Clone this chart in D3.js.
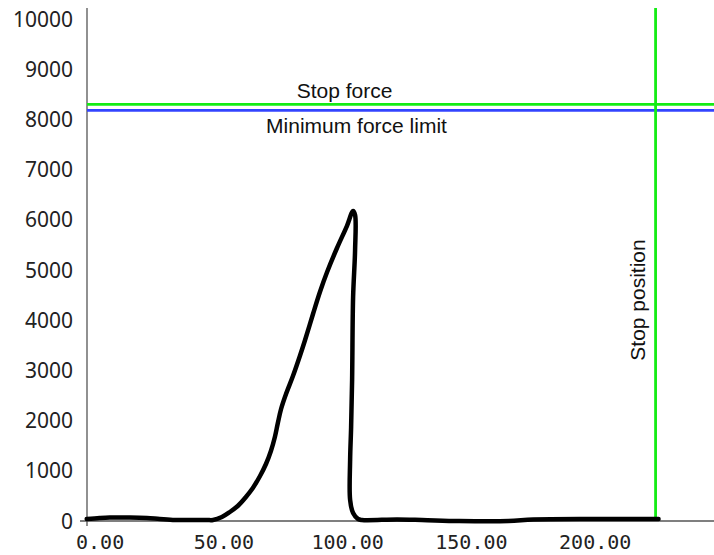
<!DOCTYPE html>
<html><head><meta charset="utf-8">
<script src="https://cdn.jsdelivr.net/npm/d3@7"></script>
<style>body{margin:0;background:#fff}svg{display:block}</style>
</head><body>
<script>
// Data
const posX = [-5.4,-0.2,3.9,12.0,18.9,24.1,30.2,35.0,43.1,45.6,49.2,52.4,55.6,58.9,61.7,64.6,67.0,69.0,70.6,71.8,73.1,75.1,77.9,80.7,82.8,86.0,88.8,91.7,95.7,99.7,102.2,103.0,103.0,102.2,101.8,101.4,101.0,101.0,102.2,104.2,105.8,120,130,145,165,175,200,225.6];
const force = [40,60,70,70,60,40,20,20,20,20,80,179,299,478,657,896,1135,1394,1673,1952,2231,2530,2888,3287,3606,4124,4562,4960,5438,5876,6175,6095,5398,4462,2809,1873,1215,418,159,40,20,30,20,0,0,30,40,40];
const xTicks = [0,50,100,150,200];
const yTicks = [0,1000,2000,3000,4000,5000,6000,7000,8000,9000,10000];
const stopForce = 8300;
const minForce = 8180;
const stopPosition = 224.4;
const labels = {stopForce:"Stop force", minForce:"Minimum force limit", stopPos:"Stop position"};

const W = 714, H = 555;
const svg = d3.select("body").append("svg").attr("width", W).attr("height", H);

const x = d3.scaleLinear().domain([-5.3, 248]).range([87, 714]);
const y = d3.scaleLinear().domain([0, 10000]).range([521, 19]);

// axes lines
svg.append("line").attr("x1", 80).attr("x2", 714).attr("y1", y(0)).attr("y2", y(0))
  .attr("stroke", "#555").attr("stroke-width", 1.3);
svg.append("line").attr("x1", 87).attr("x2", 87).attr("y1", 8).attr("y2", y(0) + 5)
  .attr("stroke", "#555").attr("stroke-width", 1.3);

// y labels
svg.append("g").selectAll("text").data(yTicks).join("text")
  .attr("x", 73).attr("y", d => y(d)).attr("dy", "0.36em")
  .attr("text-anchor", "end")
  .attr("font-family", "'Noto Sans', sans-serif").attr("font-size", 21)
  .attr("fill", "#222").text(d => d);

// x labels
svg.append("g").selectAll("text").data(xTicks).join("text")
  .attr("x", d => x(d)).attr("y", 549)
  .attr("text-anchor", "middle")
  .attr("font-family", "'DejaVu Sans Mono', monospace").attr("font-size", 20)
  .attr("fill", "#222").text(d => d.toFixed(2));

// reference lines
svg.append("line").attr("x1", 87).attr("x2", 714).attr("y1", y(stopForce)).attr("y2", y(stopForce))
  .attr("stroke", "#14ec14").attr("stroke-width", 2.8);
svg.append("line").attr("x1", 87).attr("x2", 714).attr("y1", y(minForce)).attr("y2", y(minForce))
  .attr("stroke", "#3344ff").attr("stroke-width", 2.8);
svg.append("line").attr("x1", x(stopPosition)).attr("x2", x(stopPosition)).attr("y1", 8).attr("y2", y(0))
  .attr("stroke", "#14ec14").attr("stroke-width", 2.8);

const lf = "'Liberation Sans', Arial, sans-serif";
svg.append("text").attr("x", 344.5).attr("y", 98).attr("text-anchor", "middle")
  .attr("font-family", lf).attr("font-size", 21).attr("fill", "#111").text(labels.stopForce);
svg.append("text").attr("x", 356.5).attr("y", 133).attr("text-anchor", "middle")
  .attr("font-family", lf).attr("font-size", 21).attr("fill", "#111").text(labels.minForce);
svg.append("text").attr("transform", `translate(${x(stopPosition) - 11},300) rotate(-90)`)
  .attr("text-anchor", "middle")
  .attr("font-family", lf).attr("font-size", 21).attr("fill", "#111").text(labels.stopPos);

// curve
const pts = posX.map((d, i) => [d, force[i]]);
svg.append("path").datum(pts)
  .attr("d", d3.line().x(d => x(d[0])).y(d => y(d[1])).curve(d3.curveCatmullRom.alpha(0.5)))
  .attr("fill", "none").attr("stroke", "#000").attr("stroke-width", 4.5)
  .attr("stroke-linejoin", "round").attr("stroke-linecap", "round");
</script>
</body></html>
